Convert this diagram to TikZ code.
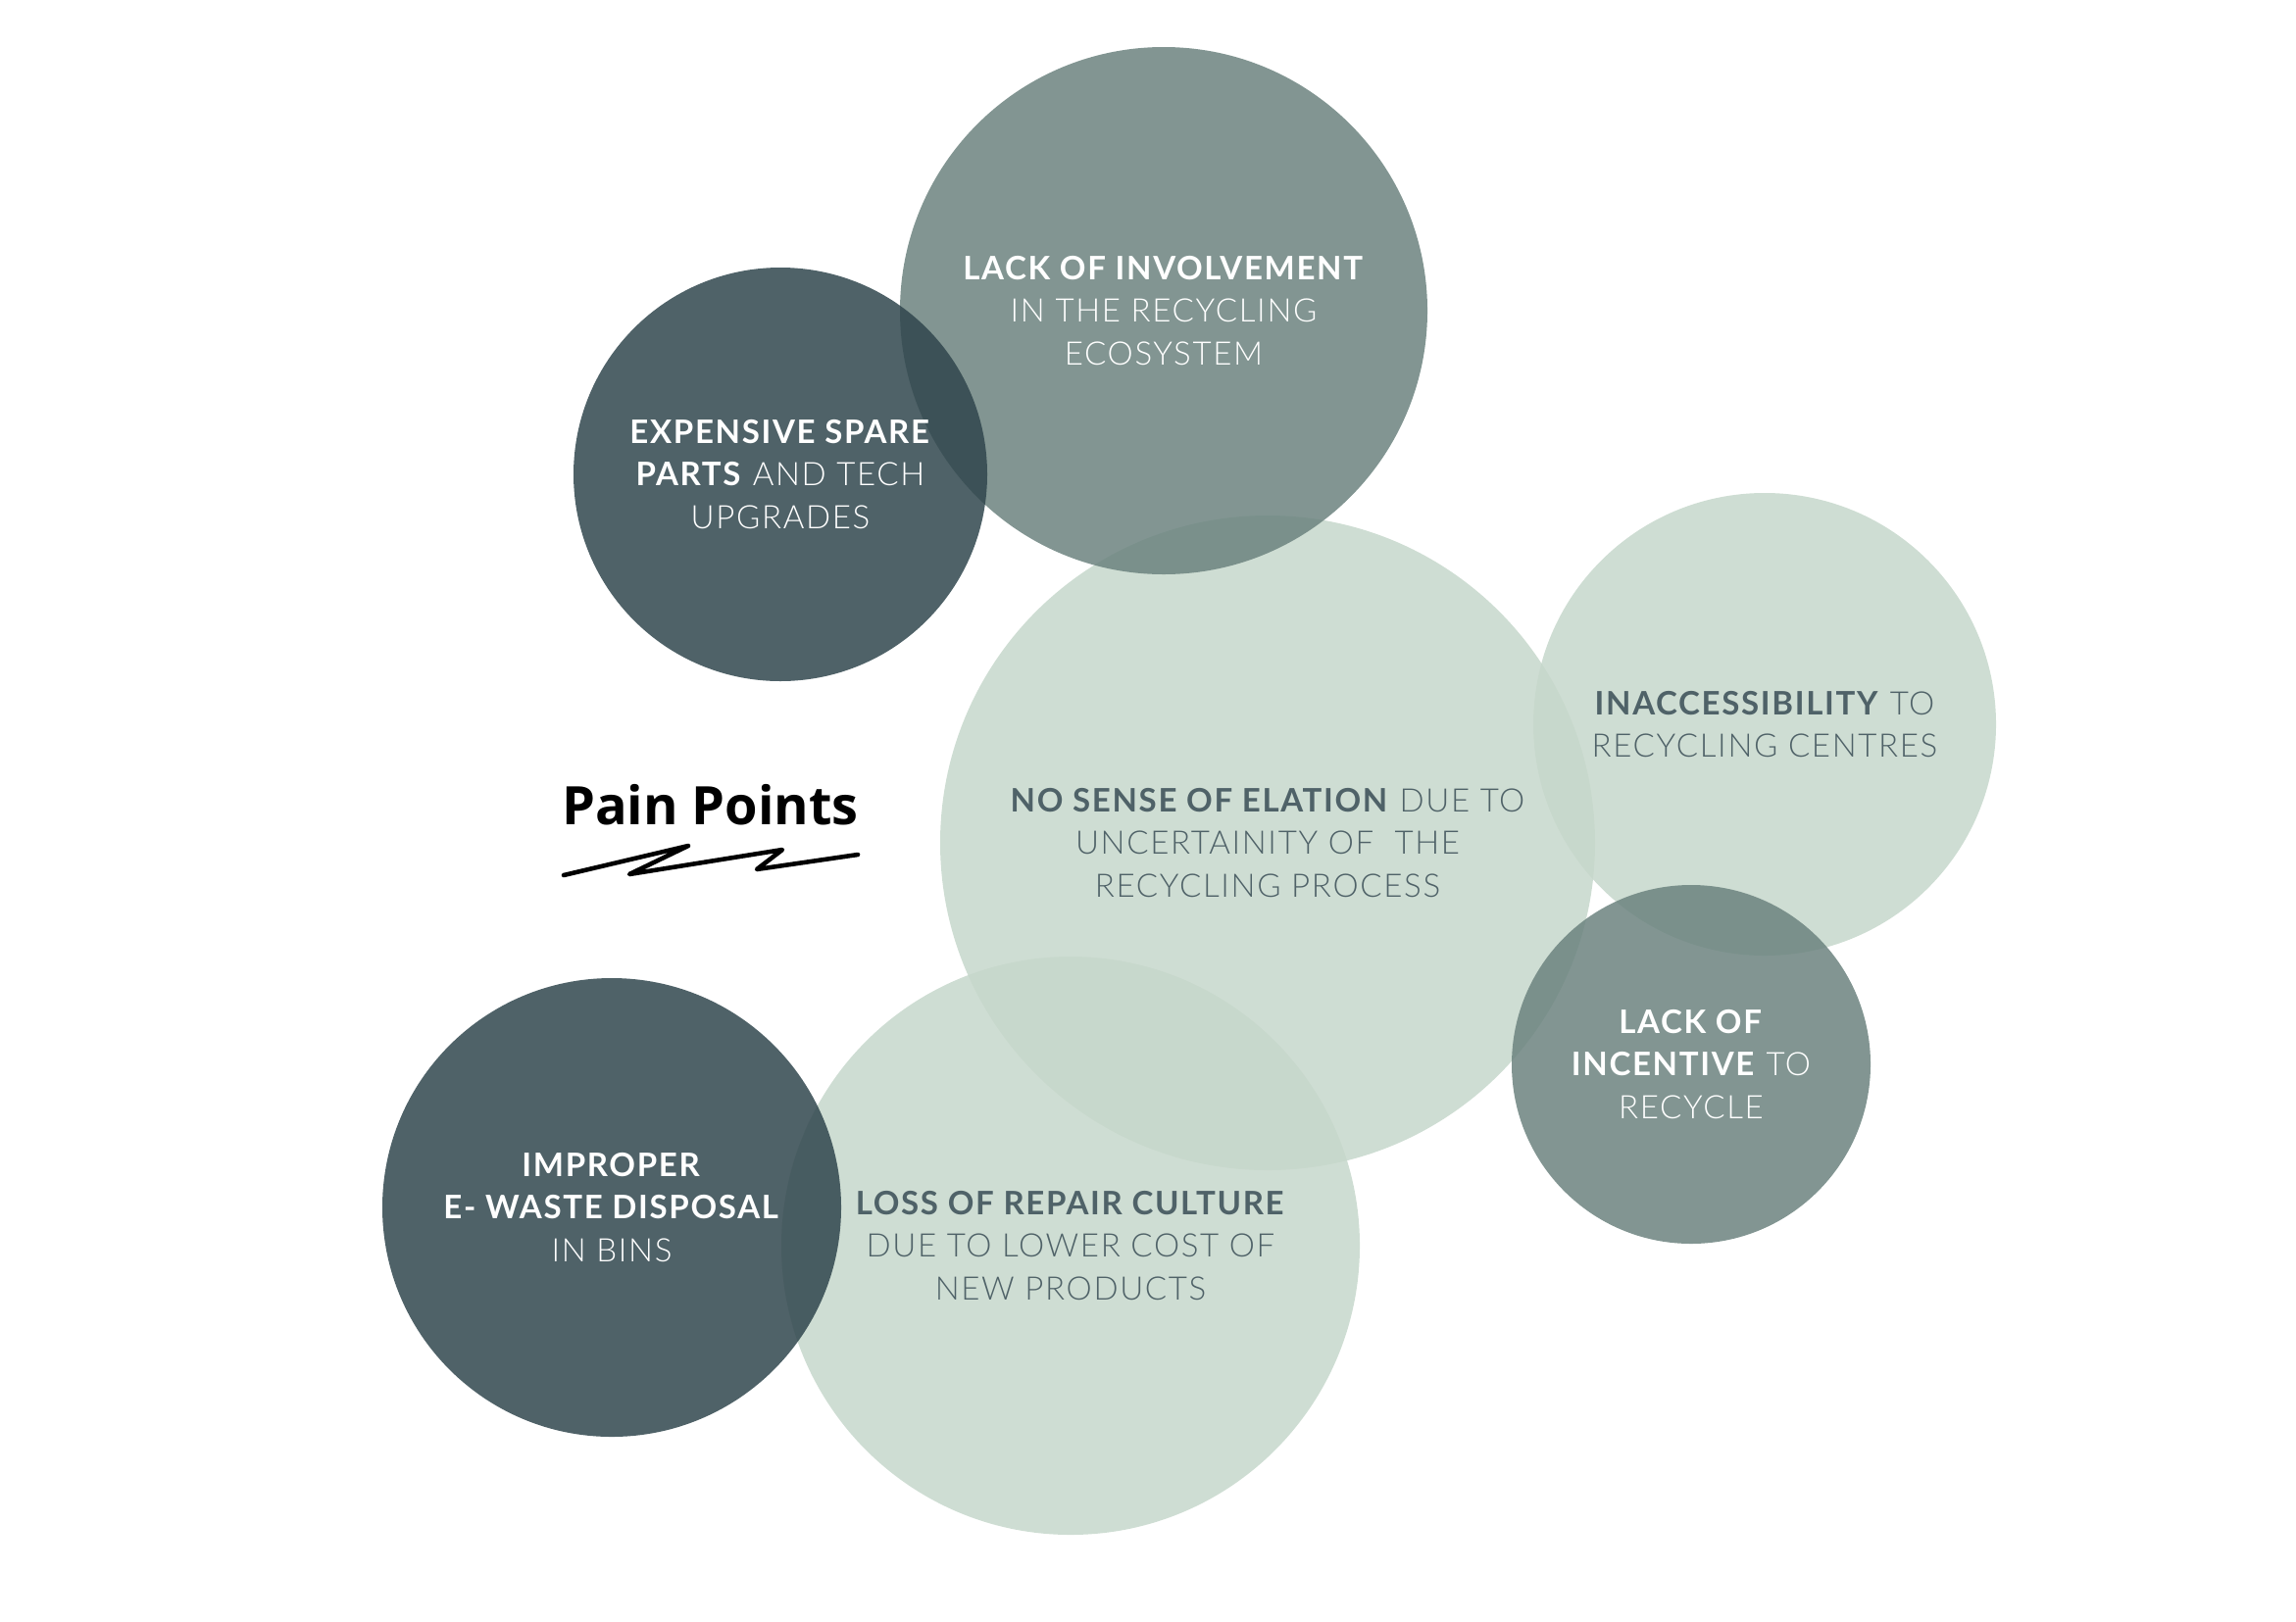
\documentclass[tikz,border=0pt]{standalone}
\usepackage{fontspec}
\setmainfont{Lato}[UprightFont=* Light,BoldFont=* Bold,LetterSpace=5]
\newfontfamily\titlefont{Open Sans}
\definecolor{slatedark}{HTML}{30464D}
\definecolor{sagemid}{HTML}{6C837F}
\definecolor{sagelight}{HTML}{C6D7CB}
\definecolor{slatetext}{HTML}{4F6268}
\tikzset{
  bubble/.style={circle, inner sep=0pt, fill opacity=0.85, text opacity=1,
    align=center, font=\fontsize{9.4}{12.3}\selectfont},
  darkbubble/.style={bubble, fill=slatedark, text=white},
  midbubble/.style={bubble, fill=sagemid, text=white},
  lightbubble/.style={bubble, fill=sagelight, text=slatetext},
}
\begin{document}
\begin{tikzpicture}
  \useasboundingbox (0,0) rectangle (23.42,-16.54);
  \node[lightbubble, minimum size=6.68cm] (elation) at (12.93,-8.60)
    {\textbf{NO SENSE OF ELATION} DUE TO\\UNCERTAINITY OF \ THE\\RECYCLING PROCESS};
  \node[lightbubble, minimum size=5.90cm] (repair) at (10.92,-12.71)
    {\textbf{LOSS OF REPAIR CULTURE}\\DUE TO LOWER COST OF\\NEW PRODUCTS};
  \node[lightbubble, minimum size=4.72cm] (access) at (18.00,-7.39)
    {\textbf{INACCESSIBILITY} TO\\RECYCLING CENTRES};
  \node[midbubble, minimum size=5.38cm] (involve) at (11.87,-3.17)
    {\textbf{LACK OF INVOLVEMENT}\\IN THE RECYCLING\\ECOSYSTEM};
  \node[darkbubble, minimum size=4.22cm] (spare) at (7.96,-4.84)
    {\textbf{EXPENSIVE SPARE}\\\textbf{PARTS} AND TECH\\UPGRADES};
  \node[midbubble, minimum size=3.66cm] (incentive) at (17.25,-10.86)
    {\textbf{LACK OF}\\\textbf{INCENTIVE} TO\\RECYCLE};
  \node[darkbubble, minimum size=4.68cm] (disposal) at (6.24,-12.32)
    {\textbf{IMPROPER}\\\textbf{E- WASTE DISPOSAL}\\IN BINS};

  \node[anchor=base, font=\titlefont\bfseries\fontsize{15.4}{19}\selectfont] (title) at (7.245,-8.41) {Pain Points};
  \draw[line width=1.3pt, line join=round, line cap=round]
    (5.75,-8.93) -- (7.02,-8.63) -- (6.42,-8.92) -- (7.98,-8.67) -- (7.72,-8.87) -- (8.75,-8.72);
\end{tikzpicture}
\end{document}
